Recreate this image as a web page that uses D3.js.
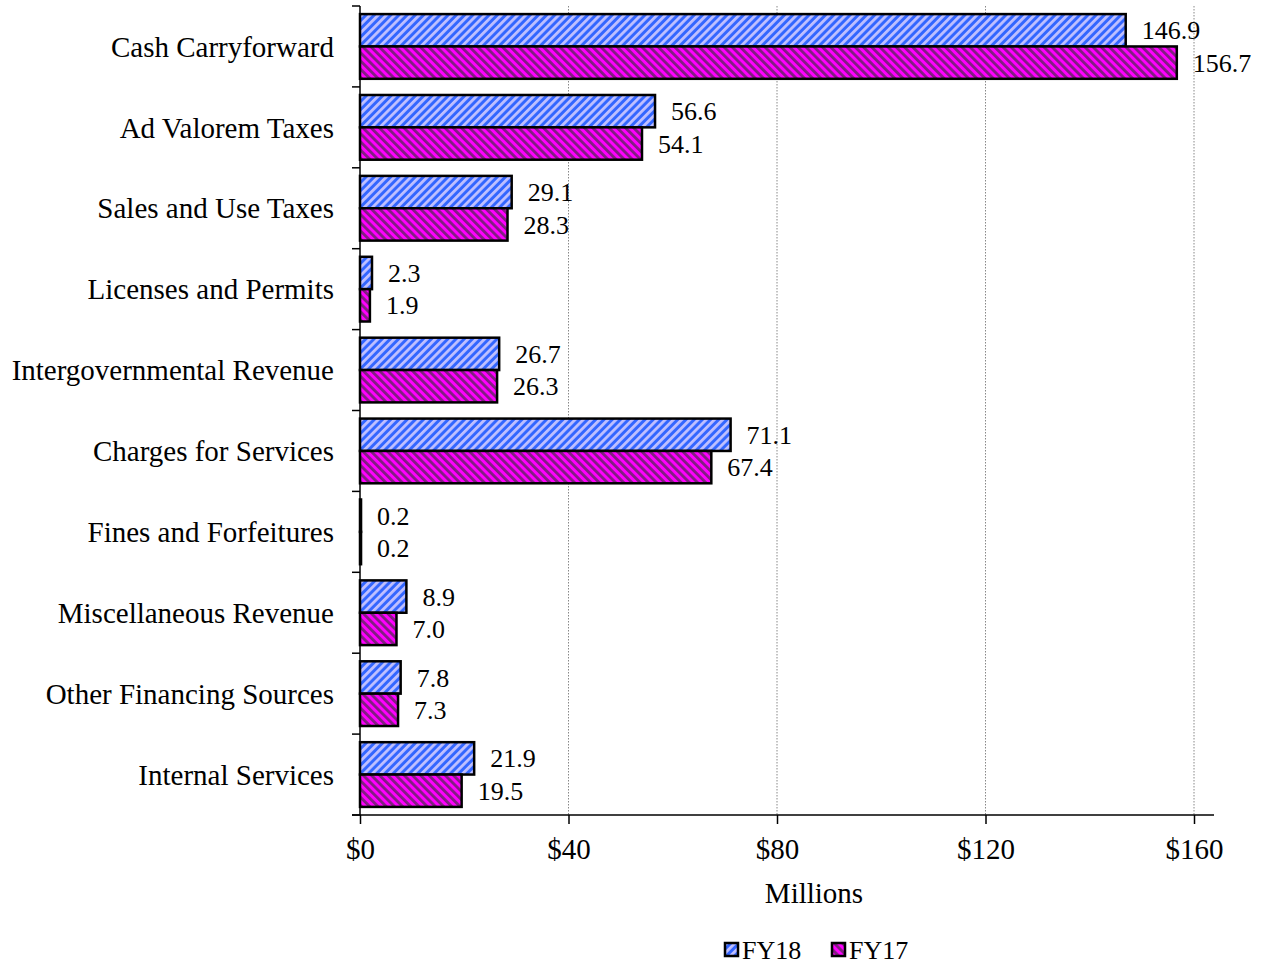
<!DOCTYPE html>
<html lang="en">
<head>
  <meta charset="UTF-8">
  <script src="https://d3js.org/d3.v7.min.js"></script>
  <title>Revenue by Source</title>
  <style>
    body { margin: 0; background: #fff; }
    text { font-family: "Liberation Serif", "Times New Roman", serif; fill: #000; }
  </style>
</head>
<body>
  <svg id="chart" width="1263" height="965"></svg>
  <script>
    const categories = ['Cash Carryforward', 'Ad Valorem Taxes', 'Sales and Use Taxes', 'Licenses and Permits',
      'Intergovernmental Revenue', 'Charges for Services', 'Fines and Forfeitures', 'Miscellaneous Revenue',
      'Other Financing Sources', 'Internal Services'];
    const fy18 = [146.9, 56.6, 29.1, 2.3, 26.7, 71.1, 0.2, 8.9, 7.8, 21.9];
    const fy17 = [156.7, 54.1, 28.3, 1.9, 26.3, 67.4, 0.2, 7.0, 7.3, 19.5];
    const seriesNames = ['FY18', 'FY17'];
    const xTicks = [0, 40, 80, 120, 160];

    const svg = d3.select('#chart');
    const plotL = 360, plotR = 1194, plotT = 6, plotB = 815;

    // stripe patterns
    const defs = svg.append('defs');
    const pats = [
      { id: 'pFY18', base: '#3366ff', stripe: '#c0c0ff', rot: 45 },
      { id: 'pFY17', base: '#ff00ff', stripe: '#7f1f7f', rot: -45 }
    ];
    pats.forEach(p => {
      const pat = defs.append('pattern')
        .attr('id', p.id)
        .attr('patternUnits', 'userSpaceOnUse')
        .attr('width', 5.8).attr('height', 5.8)
        .attr('patternTransform', `rotate(${p.rot})`);
      pat.append('rect').attr('width', 5.8).attr('height', 5.8).attr('fill', p.base);
      pat.append('rect').attr('x', 0).attr('width', 2.8).attr('height', 5.8).attr('fill', p.stripe);
    });

    const x = d3.scaleLinear().domain([0, 160]).range([plotL, plotR]);
    const y = d3.scaleBand().domain(categories).range([plotT, plotB]).paddingInner(0.2).paddingOuter(0.1);
    const sub = d3.scaleBand().domain(seriesNames).range([0, y.bandwidth()]);

    // gridlines
    svg.append('g').selectAll('line')
      .data(xTicks.slice(1))
      .enter().append('line')
      .attr('x1', d => x(d)).attr('x2', d => x(d))
      .attr('y1', plotT).attr('y2', plotB)
      .attr('stroke', '#888').attr('stroke-width', 1).attr('stroke-dasharray', '1.5,1.5');

    // bars
    const rows = categories.map((c, i) => ({ c, vals: [fy18[i], fy17[i]] }));
    const grp = svg.append('g').selectAll('g')
      .data(rows).enter().append('g')
      .attr('transform', d => `translate(0,${y(d.c)})`);

    grp.selectAll('rect')
      .data(d => d.vals.map((v, k) => ({ v, s: seriesNames[k] })))
      .enter().append('rect')
      .attr('x', x(0))
      .attr('y', d => sub(d.s))
      .attr('width', d => x(d.v) - x(0))
      .attr('height', sub.bandwidth())
      .attr('fill', d => `url(#p${d.s})`)
      .attr('stroke', '#000').attr('stroke-width', 2.5);

    grp.selectAll('text')
      .data(d => d.vals.map((v, k) => ({ v, s: seriesNames[k] })))
      .enter().append('text')
      .attr('x', d => x(d.v) + 16)
      .attr('y', d => sub(d.s) + sub.bandwidth() / 2)
      .attr('dy', '0.35em')
      .attr('font-size', 26)
      .text(d => d.v.toFixed(1));

    // y axis
    const yAxis = svg.append('g');
    yAxis.append('line').attr('x1', plotL).attr('x2', plotL).attr('y1', plotT).attr('y2', plotB)
      .attr('stroke', '#000').attr('stroke-width', 1.5);
    const step = (plotB - plotT) / categories.length;
    yAxis.selectAll('line.tk')
      .data(d3.range(categories.length + 1))
      .enter().append('line').attr('class', 'tk')
      .attr('x1', plotL - 8).attr('x2', plotL)
      .attr('y1', d => plotT + d * step).attr('y2', d => plotT + d * step)
      .attr('stroke', '#000').attr('stroke-width', 1.5);
    yAxis.selectAll('text')
      .data(categories).enter().append('text')
      .attr('x', plotL - 26)
      .attr('y', d => y(d) + y.bandwidth() / 2)
      .attr('dy', '0.35em')
      .attr('text-anchor', 'end')
      .attr('font-size', 29)
      .text(d => d);

    // x axis
    const xAxis = svg.append('g').attr('transform', `translate(0,${plotB})`)
      .call(d3.axisBottom(x).tickValues(xTicks).tickSize(9).tickPadding(14).tickFormat(d => '$' + d));
    xAxis.select('.domain').attr('d', `M${plotL - 8},0H${plotR + 20}`).attr('stroke-width', 1.5);
    xAxis.selectAll('.tick line').attr('stroke-width', 1.5);
    xAxis.selectAll('.tick text').attr('font-size', 29)
      .style('font-family', '"Liberation Serif", "Times New Roman", serif');

    svg.append('text')
      .attr('x', (plotL + plotR) / 2 + 37).attr('y', 903)
      .attr('text-anchor', 'middle').attr('font-size', 29)
      .text('Millions');

    // legend
    const legend = svg.append('g').selectAll('g')
      .data(seriesNames).enter().append('g')
      .attr('transform', (d, i) => `translate(${725 + i * 107},943)`);
    legend.append('rect')
      .attr('width', 13).attr('height', 13)
      .attr('fill', d => `url(#p${d})`)
      .attr('stroke', '#000').attr('stroke-width', 2.5);
    legend.append('text')
      .attr('x', 17).attr('y', 7).attr('dy', '0.35em')
      .attr('font-size', 26)
      .text(d => d);
  </script>
</body>
</html>
